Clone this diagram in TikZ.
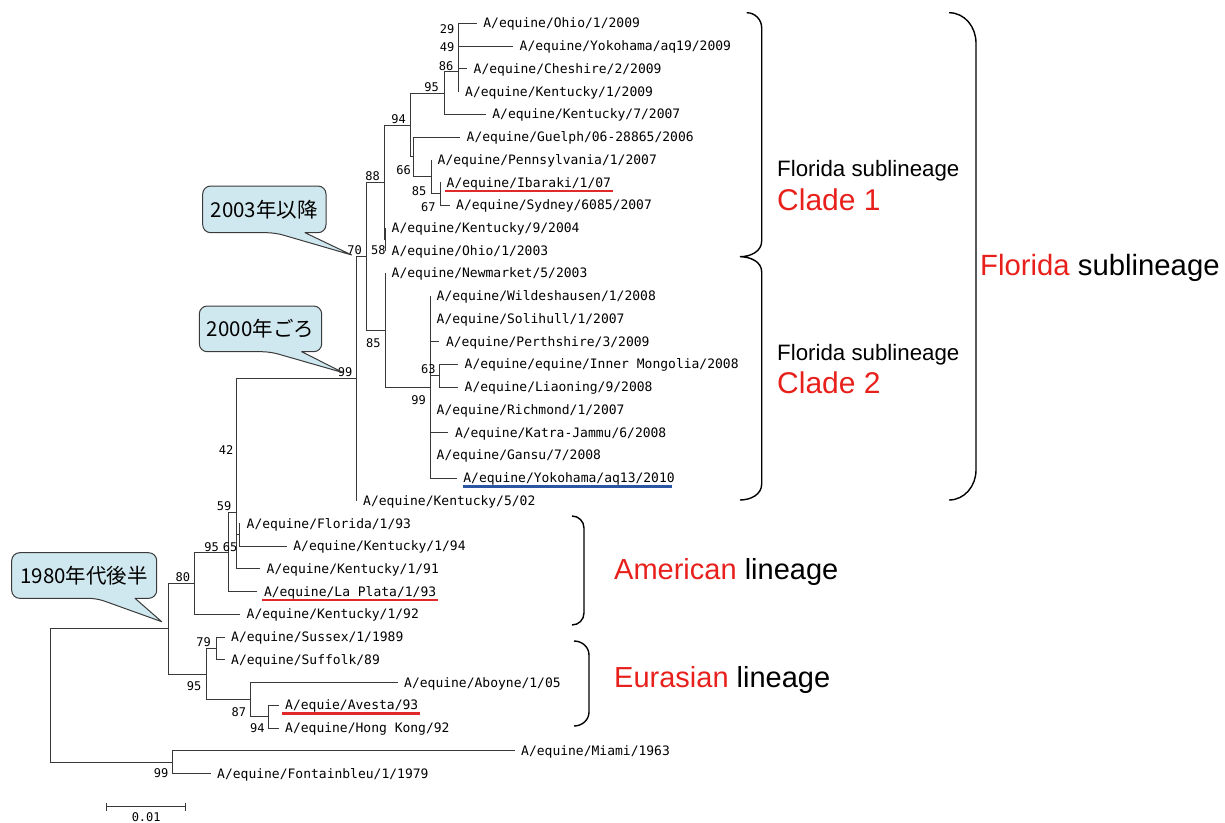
\documentclass[tikz,border=0pt]{standalone}
\usepackage{fontspec}
\setmainfont{Liberation Sans}
\newfontfamily\strainfont{DejaVu Sans Mono}
\newfontfamily\jpfont{Noto Sans CJK JP}
\usetikzlibrary{calc}
\definecolor{treegray}{HTML}{383838}
\definecolor{lineagered}{HTML}{E8201C}
\definecolor{markred}{HTML}{E02A2A}
\definecolor{markblue}{HTML}{2A56A4}
\definecolor{calloutbg}{HTML}{CFE8EF}
\definecolor{calloutedge}{HTML}{3A3A3A}

% strain: branch tip + its label
\newcommand{\strain}[4]{%
  \coordinate (#1) at (#2,#3);
  \node[strainlbl] (#1-txt) at ([shift={(6.5,4.6)}]#1) {#4};}

\begin{document}
\begin{tikzpicture}[x=1pt, y=-1pt,
    branch/.style={line width=0.8pt, treegray},
    strainlbl/.style={anchor=base west, inner sep=0pt, font=\strainfont\fontsize{13}{15}\selectfont},
    boot/.style={inner sep=0pt, font=\strainfont\fontsize{12}{14}\selectfont},
    redmark/.style={line width=2.4pt, markred},
    bluemark/.style={line width=2.4pt, markblue},
    bracket/.style={line width=1.4pt, black},
    callout/.style={fill=calloutbg, draw=calloutedge, line width=1pt, line join=round},
    callouttext/.style={inner sep=0pt, font=\jpfont\fontsize{20.5}{24}\selectfont},
    groupname/.style={anchor=base west, inner sep=0pt}]
  \useasboundingbox (0,0) rectangle (1225,822);

  % Florida sublineage, clade 1
  \strain{ohio09}{476.7}{23.3}{A/equine/Ohio/1/2009}
  \strain{yoko19}{513}{46.0}{A/equine/Yokohama/aq19/2009}
  \strain{cheshire}{467}{68.8}{A/equine/Cheshire/2/2009}
  \strain{kent09}{458.5}{91.5}{A/equine/Kentucky/1/2009}
  \strain{kent07}{485.7}{114.2}{A/equine/Kentucky/7/2007}
  \strain{guelph}{460}{137.0}{A/equine/Guelph/06-28865/2006}
  \strain{penn}{431}{159.7}{A/equine/Pennsylvania/1/2007}
  \strain{ibaraki}{440}{182.4}{A/equine/Ibaraki/1/07}
  \strain{sydney}{449.5}{205.1}{A/equine/Sydney/6085/2007}
  \strain{kent04}{385}{227.9}{A/equine/Kentucky/9/2004}
  \strain{ohio03}{385}{250.6}{A/equine/Ohio/1/2003}

  % Florida sublineage, clade 2
  \strain{newmkt}{385}{273.3}{A/equine/Newmarket/5/2003}
  \strain{wildes}{430}{296.1}{A/equine/Wildeshausen/1/2008}
  \strain{solihull}{430}{318.8}{A/equine/Solihull/1/2007}
  \strain{perth}{439.3}{341.5}{A/equine/Perthshire/3/2009}
  \strain{innmong}{458}{364.2}{A/equine/equine/Inner Mongolia/2008}
  \strain{liaoning}{458}{387.0}{A/equine/Liaoning/9/2008}
  \strain{richmond}{430}{409.7}{A/equine/Richmond/1/2007}
  \strain{katra}{448.3}{432.4}{A/equine/Katra-Jammu/6/2008}
  \strain{gansu}{430}{455.2}{A/equine/Gansu/7/2008}
  \strain{yoko13}{456.7}{477.9}{A/equine/Yokohama/aq13/2010}
  \strain{kent02}{356.5}{500.6}{A/equine/Kentucky/5/02}

  % American lineage
  \strain{florida93}{240}{523.4}{A/equine/Florida/1/93}
  \strain{kent94}{286.7}{546.1}{A/equine/Kentucky/1/94}
  \strain{kent91}{260}{568.8}{A/equine/Kentucky/1/91}
  \strain{laplata}{257.3}{591.6}{A/equine/La Plata/1/93}
  \strain{kent92}{240}{614.3}{A/equine/Kentucky/1/92}

  % Eurasian lineage and old strains
  \strain{sussex}{224.5}{637.0}{A/equine/Sussex/1/1989}
  \strain{suffolk}{224.5}{659.7}{A/equine/Suffolk/89}
  \strain{aboyne}{397.5}{682.5}{A/equine/Aboyne/1/05}
  \strain{avesta}{278.5}{705.2}{A/equie/Avesta/93}
  \strain{hongkong}{278.5}{727.9}{A/equine/Hong Kong/92}
  \strain{miami}{514.5}{750.7}{A/equine/Miami/1963}
  \strain{fontain}{210.5}{773.4}{A/equine/Fontainbleu/1/1979}

  % inner nodes
  \coordinate (n29) at (458.5,34.65);
  \coordinate (n49) at (458.5,51.7);
  \coordinate (n86) at (458.5,71.6);
  \coordinate (n95) at (444,92.9);
  \coordinate (n67) at (440,193.75);
  \coordinate (n85b) at (431,176.7);
  \coordinate (n66) at (413,156.85);
  \coordinate (n94) at (410.5,124.9);
  \coordinate (n58) at (385,239.25);
  \coordinate (n88) at (384.3,182.1);
  \coordinate (n63) at (439.3,375.6);
  \coordinate (n99b) at (430,387.0);
  \coordinate (n85a) at (385,330.15);
  \coordinate (n70) at (366.7,256.1);
  \coordinate (n99a) at (356.5,378.35);
  \coordinate (n65) at (239.3,534.75);
  \coordinate (n42) at (236,456.55);
  \coordinate (n59) at (236,512.7);
  \coordinate (n95a) at (228.3,552.15);
  \coordinate (n80) at (194.3,583.2);
  \coordinate (n79) at (216,648.35);
  \coordinate (n94e) at (268.5,716.55);
  \coordinate (n87) at (250,699.5);
  \coordinate (n95e) at (206,673.9);
  \coordinate (nae) at (168.3,628.55);
  \coordinate (nout) at (172.7,762.05);
  \coordinate (root) at (50,695.3);

  % branches
  \foreach \p/\c in {n29/ohio09, n29/yoko19, n49/n29, n49/cheshire, n86/n49, n86/kent09,
      n95/n86, n95/kent07, n67/ibaraki, n67/sydney, n85b/penn, n85b/n67, n66/guelph, n66/n85b,
      n94/n95, n94/n66, n58/kent04, n58/ohio03, n88/n94, n88/n58,
      n63/innmong, n63/liaoning, n99b/wildes, n99b/solihull, n99b/perth, n99b/n63,
      n99b/richmond, n99b/katra, n99b/gansu, n99b/yoko13, n85a/newmkt, n85a/n99b,
      n70/n88, n70/n85a, n99a/n70, n99a/kent02,
      n65/florida93, n65/kent94, n42/n99a, n42/n65, n59/n42, n59/kent91,
      n95a/n59, n95a/laplata, n80/n95a, n80/kent92,
      n79/sussex, n79/suffolk, n94e/avesta, n94e/hongkong, n87/aboyne, n87/n94e,
      n95e/n79, n95e/n87, nae/n80, nae/n95e, nout/miami, nout/fontain,
      root/nae, root/nout}
    \draw[branch] (\p) |- (\c);

  % bootstrap values
  \foreach \v/\x/\y [count=\k] in {29/447/29, 49/447/46.7, 86/446/66, 95/431.7/87.3,
      94/398.7/119, 88/372.5/175.7, 66/403.7/170, 85/419/190.7, 67/428.3/206.7,
      70/354.7/250, 58/378.3/250, 99/345/371.7, 85/373.3/343.3, 63/428.3/369.3,
      99/418.7/400, 42/226/450, 59/224/506, 95/211.7/546.7, 65/230/546.7,
      80/182.8/576.7, 79/203.5/641.7, 95/194/686, 87/238.8/711.7, 94/257.3/728.3,
      99/161/773.3}
    \node[boot] (bs\k) at (\x,\y) {\v};

  % underlined strains
  \draw[redmark] ([shift={(-1.5,3.8)}]ibaraki-txt.base west) -- ([shift={(2,3.8)}]ibaraki-txt.base east);
  \draw[redmark] ([shift={(-1.5,3.8)}]laplata-txt.base west) -- ([shift={(2,3.8)}]laplata-txt.base east);
  \draw[redmark] ([shift={(-3,3.8)}]avesta-txt.base west) -- ([shift={(2,3.8)}]avesta-txt.base east);
  \draw[bluemark] ([shift={(-0.5,3.8)}]yoko13-txt.base west) -- ([shift={(-3,3.8)}]yoko13-txt.base east);

  % scale bar
  \coordinate (sbl) at (106.7,806.5);
  \coordinate (sbr) at (185.7,806.5);
  \draw[branch] (sbl) -- (sbr);
  \draw[branch] ([yshift=4pt]sbl) -- ([yshift=-4pt]sbl);
  \draw[branch] ([yshift=4pt]sbr) -- ([yshift=-4pt]sbr);
  \node[boot, anchor=south] (sbtxt) at (146.2,821.5) {0.01};

  % callouts
  \draw[callout] (351.7,255) -- (305,232.7) [rounded corners=8pt] -- (326,232.7) -- (326,186)
    -- (202.7,186) -- (202.7,232.7) -- (275,232.7) [sharp corners] -- cycle;
  \node[callouttext] (c2003) at (264.3,209.5) {2003年以降};
  \draw[callout] (343.3,372.7) -- (301.7,351.7) [rounded corners=8pt] -- (321.7,351.7) -- (321.7,306)
    -- (199.3,306) -- (199.3,351.7) -- (270,351.7) [sharp corners] -- cycle;
  \node[callouttext] (c2000) at (260.5,329) {2000年ごろ};
  \draw[callout] (161.7,621.7) -- (135,598.3) [rounded corners=8pt] -- (156.7,598.3) -- (156.7,552.7)
    -- (11.7,552.7) -- (11.7,598.3) -- (96.7,598.3) [sharp corners] -- cycle;
  \node[callouttext] (c1980) at (84.2,575.5) {1980年代後半};

  % brackets
  \draw[bracket] (746.7,12.7) to[out=0,in=90] (761.7,28) -- (761.7,241) to[out=-90,in=0] (740,256.7)
    to[out=0,in=90] (761.7,272) -- (761.7,484) to[out=-90,in=0] (740,500);
  \draw[bracket] (949,12.7) to[out=0,in=90] (976,43) -- (976,470) to[out=-90,in=0] (949,500);
  \draw[bracket] (572,516) to[out=0,in=90] (584,528) -- (584,613) to[out=-90,in=0] (572,625);
  \draw[bracket] (574,641) to[out=0,in=90] (589,655) -- (589,712) to[out=-90,in=0] (574,726);

  % group names
  \node[groupname, font=\fontsize{22.3}{26}\selectfont] (fl1) at (777,176.7) {Florida sublineage};
  \node[groupname, font=\fontsize{30}{34}\selectfont, text=lineagered] (clade1) at (777,210) {Clade 1};
  \node[groupname, font=\fontsize{22.3}{26}\selectfont] (fl2) at (777,360) {Florida sublineage};
  \node[groupname, font=\fontsize{30}{34}\selectfont, text=lineagered] (clade2) at (777,393.3) {Clade 2};
  \node[groupname, font=\fontsize{29.3}{34}\selectfont] (florida) at (980,275) {\textcolor{lineagered}{Florida} sublineage};
  \node[groupname, font=\fontsize{29}{34}\selectfont] (american) at (614,579.5) {\textcolor{lineagered}{American} lineage};
  \node[groupname, font=\fontsize{29}{34}\selectfont] (eurasian) at (614,687.5) {\textcolor{lineagered}{Eurasian} lineage};
\end{tikzpicture}
\end{document}
